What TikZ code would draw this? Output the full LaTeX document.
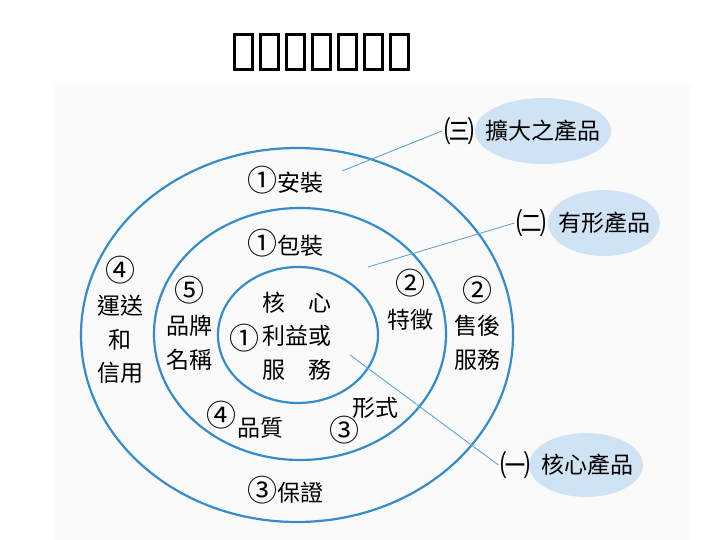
\documentclass[tikz,border=0pt]{standalone}
\usepackage{fontspec}
\newfontfamily\cjk{Noto Sans CJK TC}
\usetikzlibrary{positioning}
\definecolor{ringblue}{RGB}{52,140,205}
\definecolor{leadblue}{RGB}{95,165,215}
\definecolor{tagblue}{RGB}{208,227,244}
\definecolor{panelgray}{RGB}{250,250,250}
\newcommand{\circnum}[1]{{\fontsize{30}{33.5}\selectfont #1}}

\begin{document}
\begin{tikzpicture}[x=1pt, y=-1pt, font=\cjk\fontsize{23}{33.5}\selectfont, inner sep=2pt,
    ring/.style={draw=ringblue, line width=2.2pt},
    lead/.style={draw=leadblue, line width=0.9pt}]
        \fill[white] (0,0) rectangle (720,540);
        \useasboundingbox (0,0) rectangle (720,540);
        \fill[panelgray] (55,83) rectangle (690,540);

        % Title (glyphs shown as empty boxes)
        \foreach \i in {0,...,6}
            \draw[line width=2.6pt] (234.5+26*\i,34.5) rectangle ++(18,35);

        % Rings
        \draw[ring] (297,335) ellipse [x radius=216, y radius=187];
        \draw[ring] (300,334) ellipse [x radius=146, y radius=126];
        \draw[ring] (298,335) ellipse [x radius=80, y radius=68];

        % Ring labels
        \node (install) at (285,180) {\circnum{①}安裝};
        \node (pack) at (285,243) {\circnum{①}包裝};
        \node (warranty) at (285,490) {\circnum{③}保證};
        \node[align=center] (ship) at (120,320) {\circnum{④}\\運送\\和\\信用};
        \node[align=center] (brand) at (189,323) {\circnum{⑤}\\品牌\\名稱};
        \node[align=center] (feature) at (410,300) {\circnum{②}\\特徵};
        \node[align=center] (service) at (477,323) {\circnum{②}\\售後\\服務};
        \node (qnum) at (221,415) {\circnum{④}};
        \node (quality) at (260,428) {品質};
        \node (fnum) at (344,430) {\circnum{③}};
        \node (form) at (375,408) {形式};
        \node (cnum) at (244,338) {\circnum{①}};
        \node[align=center] (core) at (297,336) {核　心\\利益或\\服　務};

        % Callouts
        \fill[tagblue] (543,131) ellipse [x radius=68, y radius=33];
        \fill[tagblue] (604,223) ellipse [x radius=56, y radius=33];
        \fill[tagblue] (586,465) ellipse [x radius=57, y radius=32];
        \node (tagthree) at (543,131) {擴大之產品};
        \node (tagtwo) at (604,223) {有形產品};
        \node (tagone) at (587,465) {核心產品};
        \node[left=7pt of tagthree] (numthree) {\circnum{㈢}};
        \node[left=7pt of tagtwo] (numtwo) {\circnum{㈡}};
        \node[left=6pt of tagone] (numone) {\circnum{㈠}};

        \coordinate (tipthree) at (342,171);
        \coordinate (tiptwo) at (368,267);
        \coordinate (tipone) at (350,355);
        \draw[lead] (tipthree) -- (numthree.west);
        \draw[lead] (tiptwo) -- (numtwo.west);
        \draw[lead] (tipone) -- (numone.west);
\end{tikzpicture}
\end{document}
